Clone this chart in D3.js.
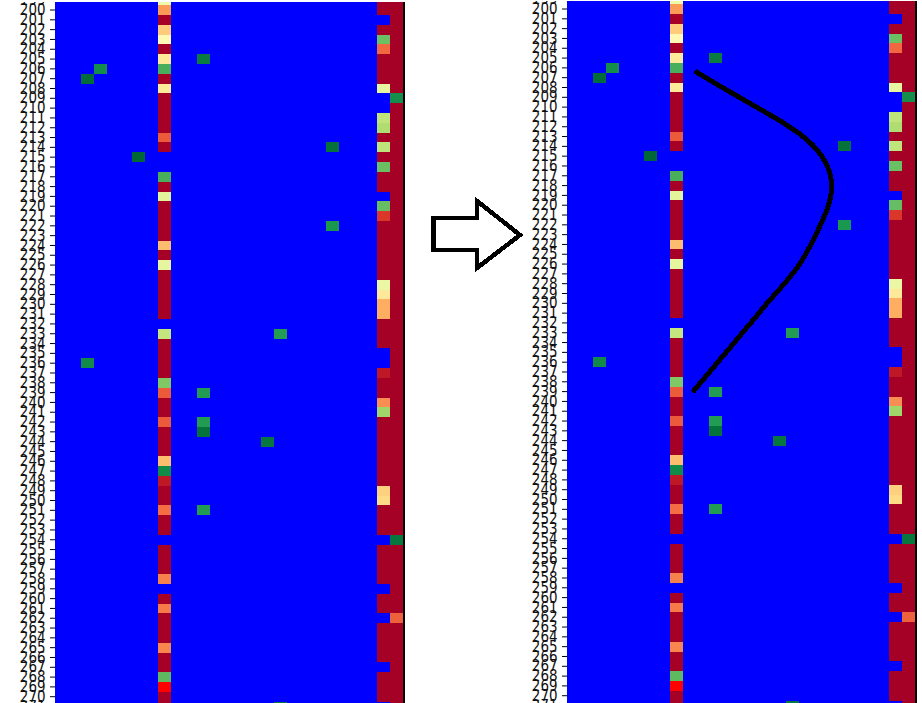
<!DOCTYPE html>
<html>
<head>
<meta charset="utf-8">
<script src="https://cdn.jsdelivr.net/npm/d3@7"></script>
<style>
    html, body { margin: 0; padding: 0; background: #fff; overflow: hidden; }
    svg { display: block; }
    .tick text { font-family: "DejaVu Sans", sans-serif; font-size: 16px; fill: #111; }
    .tick line { stroke: #000; }
    .domain { display: none; }
</style>
</head>
<body>
<svg id="chart" width="922" height="703"></svg>
<script>
// row numbers on the y axis, first and last are cut by the picture edge
var rowLabels = d3.range(199, 272);
var columnLabels = d3.range(0, 27);

// position on the RdYlGn map, null = missing (blue), 2 = the one pure red cell
var column8Values = [
    0.54, 0.27, 0, 0.36, 0.48, 0, 0.43, 0.84, 0, 0.43,
    0, 0, 0, 0, 0.17, 0, null, null, 0.84, 0,
    0.57, 0, 0, 0, 0, 0.33, 0, 0.56, 0, 0,
    0, 0, 0, null, 0.64, 0, 0, 0, 0, 0.76,
    0.17, 0, 0, 0.17, 0, 0, 0, 0.33, 0.93, 0.05,
    0, 0, 0.2, 0, 0, null, 0, 0, 0, 0.23,
    null, 0, 0.22, 0, 0, 0, 0.24, 0, 0, 0.81,
    2, 0, 0
];

var column25Values = [
    0, 0, null, 0, 0.79, 0.19, 0, 0, 0, 0.56,
    null, null, 0.65, 0.68, 0, 0.65, 0, 0.79, 0, 0,
    null, 0.8, 0.11, 0, 0, 0, 0, 0, 0, 0.55,
    0.43, 0.3, 0.3, 0, 0, 0, null, null, 0.05, 0,
    0, 0.25, 0.71, 0, 0, 0, 0, 0, 0, 0,
    0.37, 0.39, 0, 0, 0, null, 0, 0, 0, 0,
    null, 0, 0, null, 0, 0, 0, 0, null, 0,
    0, 0, null
];

// column 26 is dark red except for these rows
var column26Rows = [209, 254, 262];
var column26Values = [0.92, 0.97, 0.18];

// the lone green cells
var loneRows = [205, 206, 207, 214, 215, 222, 233, 236, 239, 242, 243, 244, 251, 271];
var loneColumns = [11, 3, 2, 21, 6, 21, 17, 2, 11, 11, 11, 16, 11, 17];
var loneValues = [0.96, 0.92, 0.99, 0.98, 1, 0.9, 0.89, 0.93, 0.89, 0.89, 0.98, 0.97, 0.89, 0.97];

// hand drawn curve on the right panel, in column / row units
var curveColumns = [9.91, 11.85, 14.41, 17.04, 19.05, 20.22, 20.53, 20.22, 19.37, 17.89, 15.88, 14.64, 12.04, 9.76];
var curveRows = [206.82, 208.35, 210.28, 212.32, 214.36, 216.6, 218.64, 220.78, 223.33, 226.8, 229.96, 231.9, 235.97, 239.54];

var rdYlGn = d3.schemeRdYlGn[11];
var colorScale = d3.scaleLinear()
    .domain(d3.range(0, 11).map(function(d) { return d / 10; }))
    .range(rdYlGn);

var cellColor = function(value) {
    if (value === null) {
        return "#0000ff";
    }
    if (value > 1) {
        return "#ff0000";
    }
    return colorScale(value);
};

var cells = [];
rowLabels.forEach(function(row, i) {
    columnLabels.forEach(function(column) {
        var value = null;
        if (column == 8) value = column8Values[i];
        if (column == 25) value = column25Values[i];
        if (column == 26) {
            var k = column26Rows.indexOf(row);
            value = k >= 0 ? column26Values[k] : 0;
        }
        loneRows.forEach(function(r, j) {
            if (r == row && loneColumns[j] == column) value = loneValues[j];
        });
        cells.push({row: row, column: column, value: value});
    });
});

var heatLeft = 55, heatRight = 403, heatTop = -4.7, rowHeight = 9.81;
var labelSquash = 0.84;

var xScale = d3.scaleBand()
    .domain(columnLabels)
    .range([heatLeft, heatRight]);

var yScale = d3.scaleBand()
    .domain(rowLabels)
    .range([heatTop, heatTop + rowLabels.length * rowHeight]);

// same extents, continuous, for the curve
var xLinear = d3.scaleLinear().domain([0, 27]).range([heatLeft, heatRight]);
var yLinear = d3.scaleLinear().domain([199, 272]).range(yScale.range());

var svg = d3.select("#chart");

var panelBuilder = function(panelNumber, dx, dy, clipTop) {
    var clipId = "clip-" + panelNumber;

    svg.append("clipPath")
        .attr("id", clipId)
        .append("rect")
        .attr("x", 0)
        .attr("y", clipTop)
        .attr("width", 410)
        .attr("height", 720);

    var panel = svg.append("g")
        .attr("transform", "translate(" + dx + "," + dy + ")")
        .append("g")
        .attr("clip-path", "url(#" + clipId + ")");

    panel.selectAll("rect.cell")
        .data(cells)
        .enter()
        .append("rect")
        .attr("class", "cell")
        .attr("x", function(d) { return xScale(d.column); })
        .attr("y", function(d) { return yScale(d.row); })
        .attr("width", xScale.bandwidth())
        .attr("height", yScale.bandwidth())
        .attr("fill", function(d) { return cellColor(d.value); })
        .attr("shape-rendering", "crispEdges");

    var yAxis = d3.axisLeft()
        .scale(yScale)
        .tickSize(5)
        .tickPadding(4);

    var axis = panel.append("g")
        .attr("transform", "translate(" + heatLeft + ",0)")
        .call(yAxis);

    // the labels in the original are stretched tall and overlap each other
    axis.selectAll(".tick text")
        .attr("x", -9.5 / labelSquash)
        .attr("transform", "scale(" + labelSquash + ",1)");

    // thin frame on the right side of the map
    panel.append("line")
        .attr("x1", heatRight + 1)
        .attr("x2", heatRight + 1)
        .attr("y1", clipTop)
        .attr("y2", 720)
        .attr("stroke", "#000")
        .attr("stroke-width", 2)
        .attr("shape-rendering", "crispEdges");

    return panel;
};

panelBuilder(1, 0, 0, 2);
var rightPanel = panelBuilder(2, 512, -1, 2);

var curve = d3.line()
    .x(function(d) { return xLinear(d); })
    .y(function(d, i) { return yLinear(curveRows[i]); })
    .curve(d3.curveNatural);

rightPanel.append("path")
    .attr("d", curve(curveColumns))
    .attr("fill", "none")
    .attr("stroke", "#000")
    .attr("stroke-width", 5)
    .attr("stroke-linecap", "butt")
    .attr("shape-rendering", "crispEdges");

// block arrow between the panels
var arrowX = [433.5, 477, 477, 520, 477, 477, 433.5];
var arrowY = [218, 218, 201, 235, 268, 250, 250];

svg.append("path")
    .attr("d", d3.line()(arrowX.map(function(d, i) { return [d, arrowY[i]]; })) + "Z")
    .attr("fill", "#fff")
    .attr("stroke", "#000")
    .attr("stroke-width", 4.5)
    .attr("stroke-linejoin", "miter")
    .attr("shape-rendering", "crispEdges");
</script>
</body>
</html>
